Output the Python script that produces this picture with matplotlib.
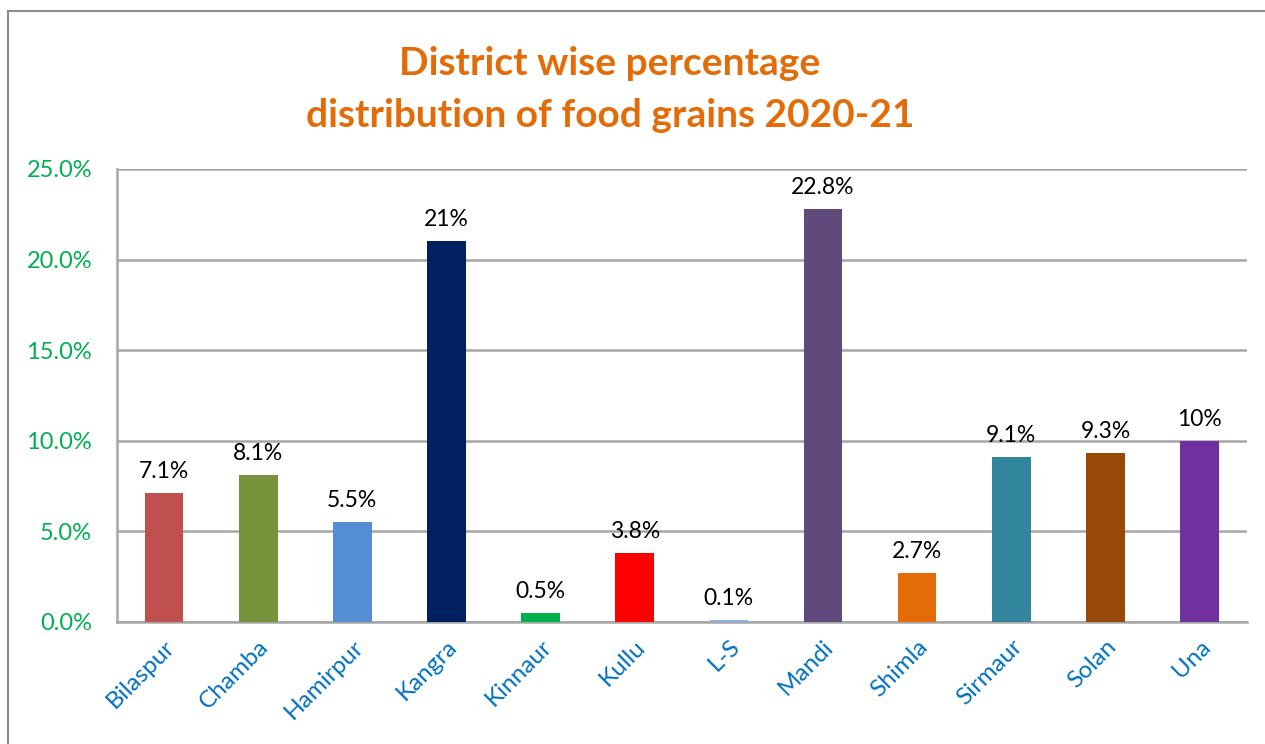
import matplotlib
matplotlib.use("Agg")
import matplotlib.pyplot as plt
from matplotlib.lines import Line2D
from matplotlib.ticker import FuncFormatter

plt.rcParams['font.family'] = ['Lato', 'DejaVu Sans']

districts = ["Bilaspur", "Chamba", "Hamirpur", "Kangra", "Kinnaur", "Kullu",
             "L-S", "Mandi", "Shimla", "Sirmaur", "Solan", "Una"]
share = [7.1, 8.1, 5.5, 21.0, 0.5, 3.8, 0.1, 22.8, 2.7, 9.1, 9.3, 10.0]
share_labels = ["7.1%", "8.1%", "5.5%", "21%", "0.5%", "3.8%", "0.1%",
                "22.8%", "2.7%", "9.1%", "9.3%", "10%"]
bar_colors = ["#C0504D", "#77933C", "#558ED5", "#002060", "#00B050", "#FF0000",
              "#8EB4E3", "#604A7B", "#E36C09", "#31859C", "#984807", "#7030A0"]
yticks = [0, 5, 10, 15, 20, 25]

fig = plt.figure(figsize=(12.65, 7.44), dpi=100)
ax = fig.add_axes([0.0925, 0.164, 0.893, 0.609])

x = range(len(districts))
ax.bar(x, share, width=0.41, color=bar_colors, zorder=3)
for xi, v, lab in zip(x, share, share_labels):
    ax.annotate(lab, (xi, v), xytext=(0, 8), textcoords="offset points",
                ha="center", va="bottom", fontsize=16.5, color="black")

ax.set_xlim(-0.5, len(districts) - 0.5)
ax.set_ylim(0, 25)
ax.set_yticks(yticks)
ax.yaxis.set_major_formatter(FuncFormatter(lambda v, p: f"{v:.1f}%"))
ax.grid(axis="y", color="#A6A6A6", linewidth=1.8, zorder=0)
ax.tick_params(axis="y", length=0, pad=18, labelsize=17, labelcolor="#00B050")
ax.tick_params(axis="x", length=0, pad=10, labelsize=17.5, labelcolor="#0070C0")
ax.set_xticks(list(x))
ax.set_xticklabels(districts, rotation=45, ha="right", rotation_mode="anchor")

for s in ["top", "right"]:
    ax.spines[s].set_visible(False)
ax.spines["left"].set_color("#A6A6A6")
ax.spines["left"].set_linewidth(1.8)
ax.spines["bottom"].set_color("#A6A6A6")
ax.spines["bottom"].set_linewidth(1.8)

fig.text(0.482, 0.880, "District wise percentage\ndistribution of food grains 2020-21",
         ha="center", va="center", fontsize=28, fontweight="bold",
         color="#E36C09", linespacing=1.6)

# outer chart border (left and top only are visible)
fig.add_artist(Line2D([0.0065, 0.0065], [0.0, 0.985], color="#8C8C8C", linewidth=1.5))
fig.add_artist(Line2D([0.0065, 1.0], [0.985, 0.985], color="#8C8C8C", linewidth=1.5))

fig.savefig("out.png", dpi=100)
